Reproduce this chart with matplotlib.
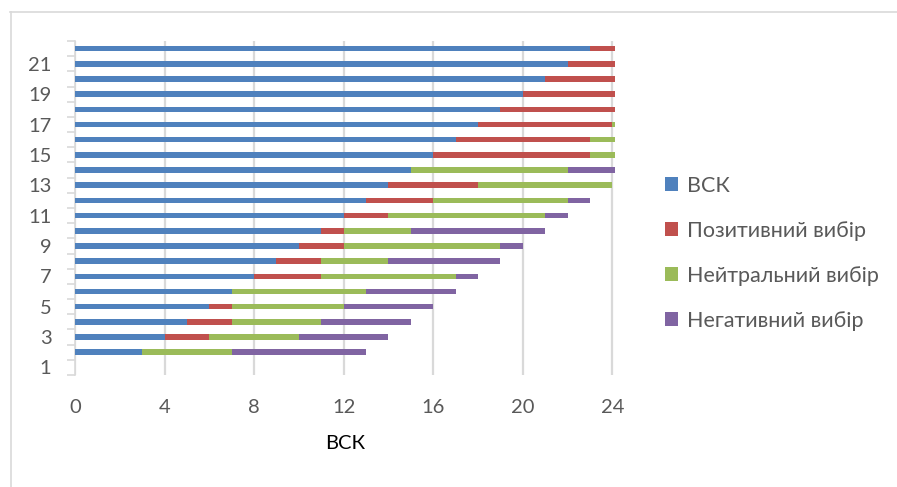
import numpy as np
import matplotlib
matplotlib.use('Agg')
import matplotlib.pyplot as plt
from matplotlib.lines import Line2D

plt.rcParams['font.family'] = ['Lato', 'DejaVu Sans']

cats     = list(range(1, 23))
vsk      = [0, 3, 4, 5, 6, 7, 8, 9, 10, 11, 12, 13, 14, 15, 16, 17, 18, 19, 20, 21, 22, 23]
positive = [0, 0, 2, 2, 1, 0, 3, 2, 2, 1, 2, 3, 4, 0, 7, 6, 6, 6, 6, 5, 5, 4]
neutral  = [0, 4, 4, 4, 5, 6, 6, 3, 7, 3, 7, 6, 6, 7, 2, 3, 3, 3, 3, 4, 4, 5]
negative = [0, 6, 4, 4, 4, 4, 1, 5, 1, 6, 1, 1, 0, 3, 1, 1, 1, 1, 1, 1, 1, 1]
labels = ['ВСК', 'Позитивний вибір', 'Нейтральний вибір', 'Негативний вибір']
colors = ['#4F81BD', '#C0504D', '#9BBB59', '#8064A2']
xticks = [0, 4, 8, 12, 16, 20, 24]

W, H = 897, 487
fig = plt.figure(figsize=(W/100, H/100), dpi=100)
ax = fig.add_axes([75/W, 1-375/H, (615-75)/W, (375-41)/H])

y = np.arange(len(cats))
left = np.zeros(len(cats))
for vals, lab, col in zip([vsk, positive, neutral, negative], labels, colors):
    v = np.array(vals, dtype=float)
    ax.barh(y, v, left=left, height=0.36, color=col, label=lab, zorder=3)
    left += v

ax.set_xlim(0, 24.12)
ax.set_ylim(-0.5, len(cats)-0.5)
ax.set_xticks(xticks)
ax.set_xticklabels([str(t) for t in xticks])
ax.set_yticks(y[::2])
ax.set_yticklabels([str(c) for c in cats[::2]])
ax.set_yticks(np.arange(-0.5, len(cats)), minor=True)
ax.grid(axis='x', color='#D9D9D9', linewidth=1.6, zorder=0)
for s in ['top', 'right', 'bottom']:
    ax.spines[s].set_visible(False)
ax.spines['left'].set_color('#D9D9D9')
ax.spines['left'].set_linewidth(1.2)
ax.tick_params(axis='x', length=0, pad=17, labelsize=14.5, labelcolor='#595959')
ax.tick_params(axis='y', which='major', length=0, pad=17, labelsize=14.5, labelcolor='#595959')
ax.tick_params(axis='y', which='minor', length=6, width=1.2, color='#D9D9D9')
ax.set_xlabel('ВСК', fontsize=14.5, color='black', labelpad=14)

fig.legend(loc='upper left', bbox_to_anchor=(665/W, 1-176/H), frameon=False,
           fontsize=15.5, labelcolor='#595959', handlelength=0.62, handleheight=0.62,
           handletextpad=0.4, labelspacing=1.16, borderpad=0, borderaxespad=0)

# chart frame (top and left edges)
fig.add_artist(Line2D([10/W, 1], [1-12/H, 1-12/H], color='#D9D9D9', linewidth=1.2))
fig.add_artist(Line2D([11/W, 11/W], [0, 1-12/H], color='#D9D9D9', linewidth=1.2))

fig.savefig('out.png', dpi=100)
